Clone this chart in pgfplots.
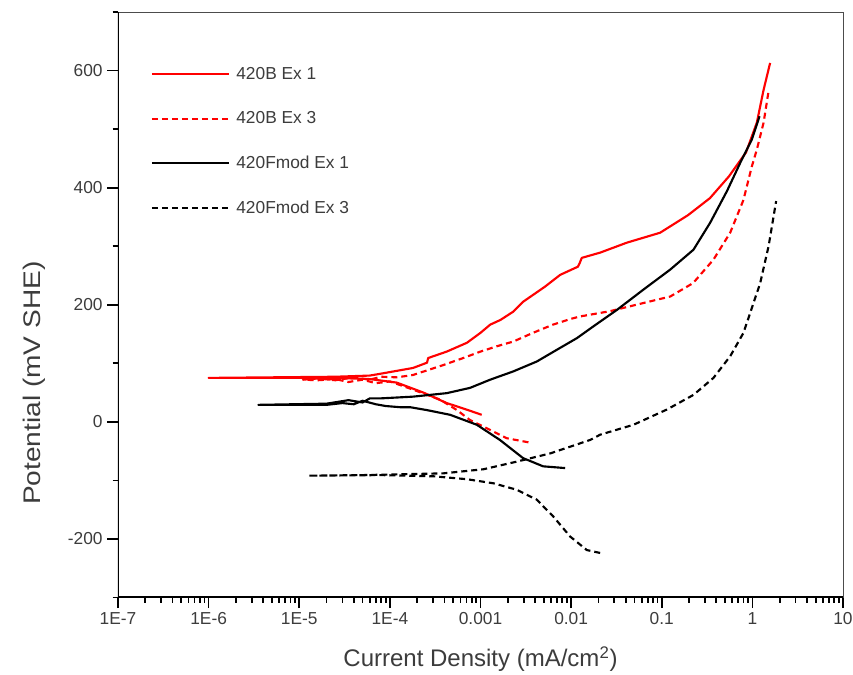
\documentclass[border=0pt]{standalone}
\usepackage{fontspec}
\setmainfont{Liberation Sans}
\newfontfamily\ylabfont{Liberation Sans}[FakeStretch=1.17]
\usepackage{pgfplots}
\pgfplotsset{compat=1.18}
\definecolor{lblgray}{RGB}{60,60,60}
\begin{document}
\begin{tikzpicture}
\path[use as bounding box] (-88.5pt,-58.1pt) rectangle (551.25pt,448.1pt);
\begin{axis}[
 at={(0pt,0pt)}, anchor=south west,
 scale only axis, width=543.75pt, height=439.1pt,
 xmode=log, xmin=1e-7, xmax=10, ymin=-300, ymax=700,
 xtick={1e-7,1e-6,1e-5,1e-4,1e-3,1e-2,1e-1,1,10},
 xticklabels={1E-7,1E-6,1E-5,1E-4,0.001,0.01,0.1,1,10},
 minor xtick={2e-7,3e-7,4e-7,5e-7,6e-7,7e-7,8e-7,9e-7,
   2e-6,3e-6,4e-6,5e-6,6e-6,7e-6,8e-6,9e-6,
   2e-5,3e-5,4e-5,5e-5,6e-5,7e-5,8e-5,9e-5,
   2e-4,3e-4,4e-4,5e-4,6e-4,7e-4,8e-4,9e-4,
   2e-3,3e-3,4e-3,5e-3,6e-3,7e-3,8e-3,9e-3,
   2e-2,3e-2,4e-2,5e-2,6e-2,7e-2,8e-2,9e-2,
   0.2,0.3,0.4,0.5,0.6,0.7,0.8,0.9,
   2,3,4,5,6,7,8,9},
 ytick={-200,0,200,400,600},
 yticklabels={-200,0,200,400,600},
 minor ytick={-300,-100,100,300,500,700},
 tick align=outside, xtick pos=left, ytick pos=left,
 major tick length=8pt, minor tick length=4pt,
 every tick/.style={black, line width=1.3pt},
 axis line style={black!70, line width=0.7pt},
 tick label style={font=\fontsize{13}{15}\selectfont, text=lblgray},
 label style={font=\fontsize{18}{21}\selectfont, text=lblgray},
 xlabel={Current Density (mA/cm\textsuperscript{2})},
 ylabel={\ylabfont Potential (mV SHE)},
 xlabel shift=9pt,
 ylabel style={at={(ticklabel cs:0.366)}},
 ylabel shift=10pt,
 legend style={at={(0.045,0.911)}, anchor=north west, draw=none, fill=none,
   inner sep=0pt, row sep=18.8pt, font=\fontsize{13}{15}\selectfont, text=lblgray,
   cells={anchor=west}, nodes={inner xsep=4.5pt}},
 legend image code/.code={\draw[#1] (0pt,0pt) -- (58pt,0pt);},
 every axis plot/.append style={line width=1.6pt, line join=round, mark=none},
]
\addplot[red, solid] coordinates {
(1.03e-3,12) (7.0e-4,21) (4.25e-4,32) (2.34e-4,50) (1.19e-4,67) (6.0e-5,73)
(2.5e-5,75) (1.0e-6,75) (2.5e-5,77) (6.0e-5,79) (7.8e-5,82) (1.8e-4,92)
(2.57e-4,101) (2.65e-4,109) (4.25e-4,120) (7.08e-4,135) (1.0e-3,152)
(1.28e-3,166) (1.66e-3,174) (2.29e-3,188) (2.95e-3,205) (5.16e-3,231)
(7.57e-3,251) (1.19e-2,265) (1.25e-2,272) (1.31e-2,280) (2.09e-2,289)
(4.12e-2,306) (9.6e-2,323) (0.195,353) (0.34,382) (0.55,419) (0.85,460)
(1.12,511) (1.33,567) (1.57,613)
};
\addlegendentry{420B Ex 1}
\addplot[red, dash pattern=on 4.5pt off 3pt] coordinates {
(3.38e-3,-35) (1.95e-3,-28) (1.175e-3,-11) (7.67e-4,3) (5.5e-4,20)
(3.58e-4,38) (1.8e-4,55) (1.0e-4,69) (7e-5,66) (5e-5,72) (3.5e-5,68)
(2.5e-5,73) (1.6e-5,71) (1.1e-5,72) (1.6e-5,74) (2.5e-5,71) (4e-5,76)
(6e-5,72) (8e-5,77) (1.2e-4,76) (1.8e-4,80) (3.89e-4,97) (6.46e-4,109)
(1.0e-3,120) (1.51e-3,129) (2.29e-3,137) (3.8e-3,152) (6.3e-3,166)
(1.0e-2,176) (1.26e-2,180) (2.69e-2,189) (6.3e-2,203) (0.124,214)
(0.222,237) (0.372,277) (0.569,323) (0.798,379) (0.986,436) (1.12,465)
(1.33,511) (1.51,565)
};
\addlegendentry{420B Ex 3}
\addplot[black, solid] coordinates {
(8.6e-3,-79) (4.91e-3,-76) (2.95e-3,-62) (1.64e-3,-31) (9.1e-4,-5)
(4.62e-4,12) (2.57e-4,20) (1.67e-4,25) (1.29e-4,25) (9e-5,27) (7e-5,30)
(5e-5,36) (4e-5,30) (3e-5,32) (2e-5,29) (3.54e-6,29) (2e-5,31) (3.5e-5,37)
(5e-5,33) (6e-5,40) (7.8e-5,40) (1.8e-4,43) (4.25e-4,49) (7.67e-4,58)
(1.28e-3,72) (2.29e-3,86) (4.18e-3,103) (6.95e-3,123) (1.16e-2,143)
(1.76e-2,163) (3.19e-2,191) (6.3e-2,226) (0.124,260) (0.224,294)
(0.342,340) (0.524,394) (0.733,442) (0.986,482) (1.2,522)
};
\addlegendentry{420Fmod Ex 1}
\addplot[black, dash pattern=on 4.5pt off 3pt] coordinates {
(2.09e-2,-224) (1.49e-2,-219) (9.77e-3,-196) (6.38e-3,-162) (4.18e-3,-133)
(2.51e-3,-116) (1.39e-3,-105) (7.08e-4,-98) (3.02e-4,-93) (1.5e-4,-92)
(8e-5,-91) (1.26e-5,-92) (5e-5,-91) (1e-4,-90) (2e-4,-89) (3.89e-4,-88)
(1.08e-3,-81) (2.51e-3,-68) (5.86e-3,-54) (1.62e-2,-31) (2.09e-2,-22)
(4.88e-2,-5) (0.114,21) (0.224,46) (0.372,75) (0.569,112) (0.798,152)
(1.03,203) (1.22,237) (1.51,300) (1.83,377)
};
\addlegendentry{420Fmod Ex 3}
\draw[black, line width=1.6pt] (rel axis cs:0,1) -- (rel axis cs:0,0) -- (rel axis cs:1,0);
\end{axis}
\end{tikzpicture}
\end{document}
